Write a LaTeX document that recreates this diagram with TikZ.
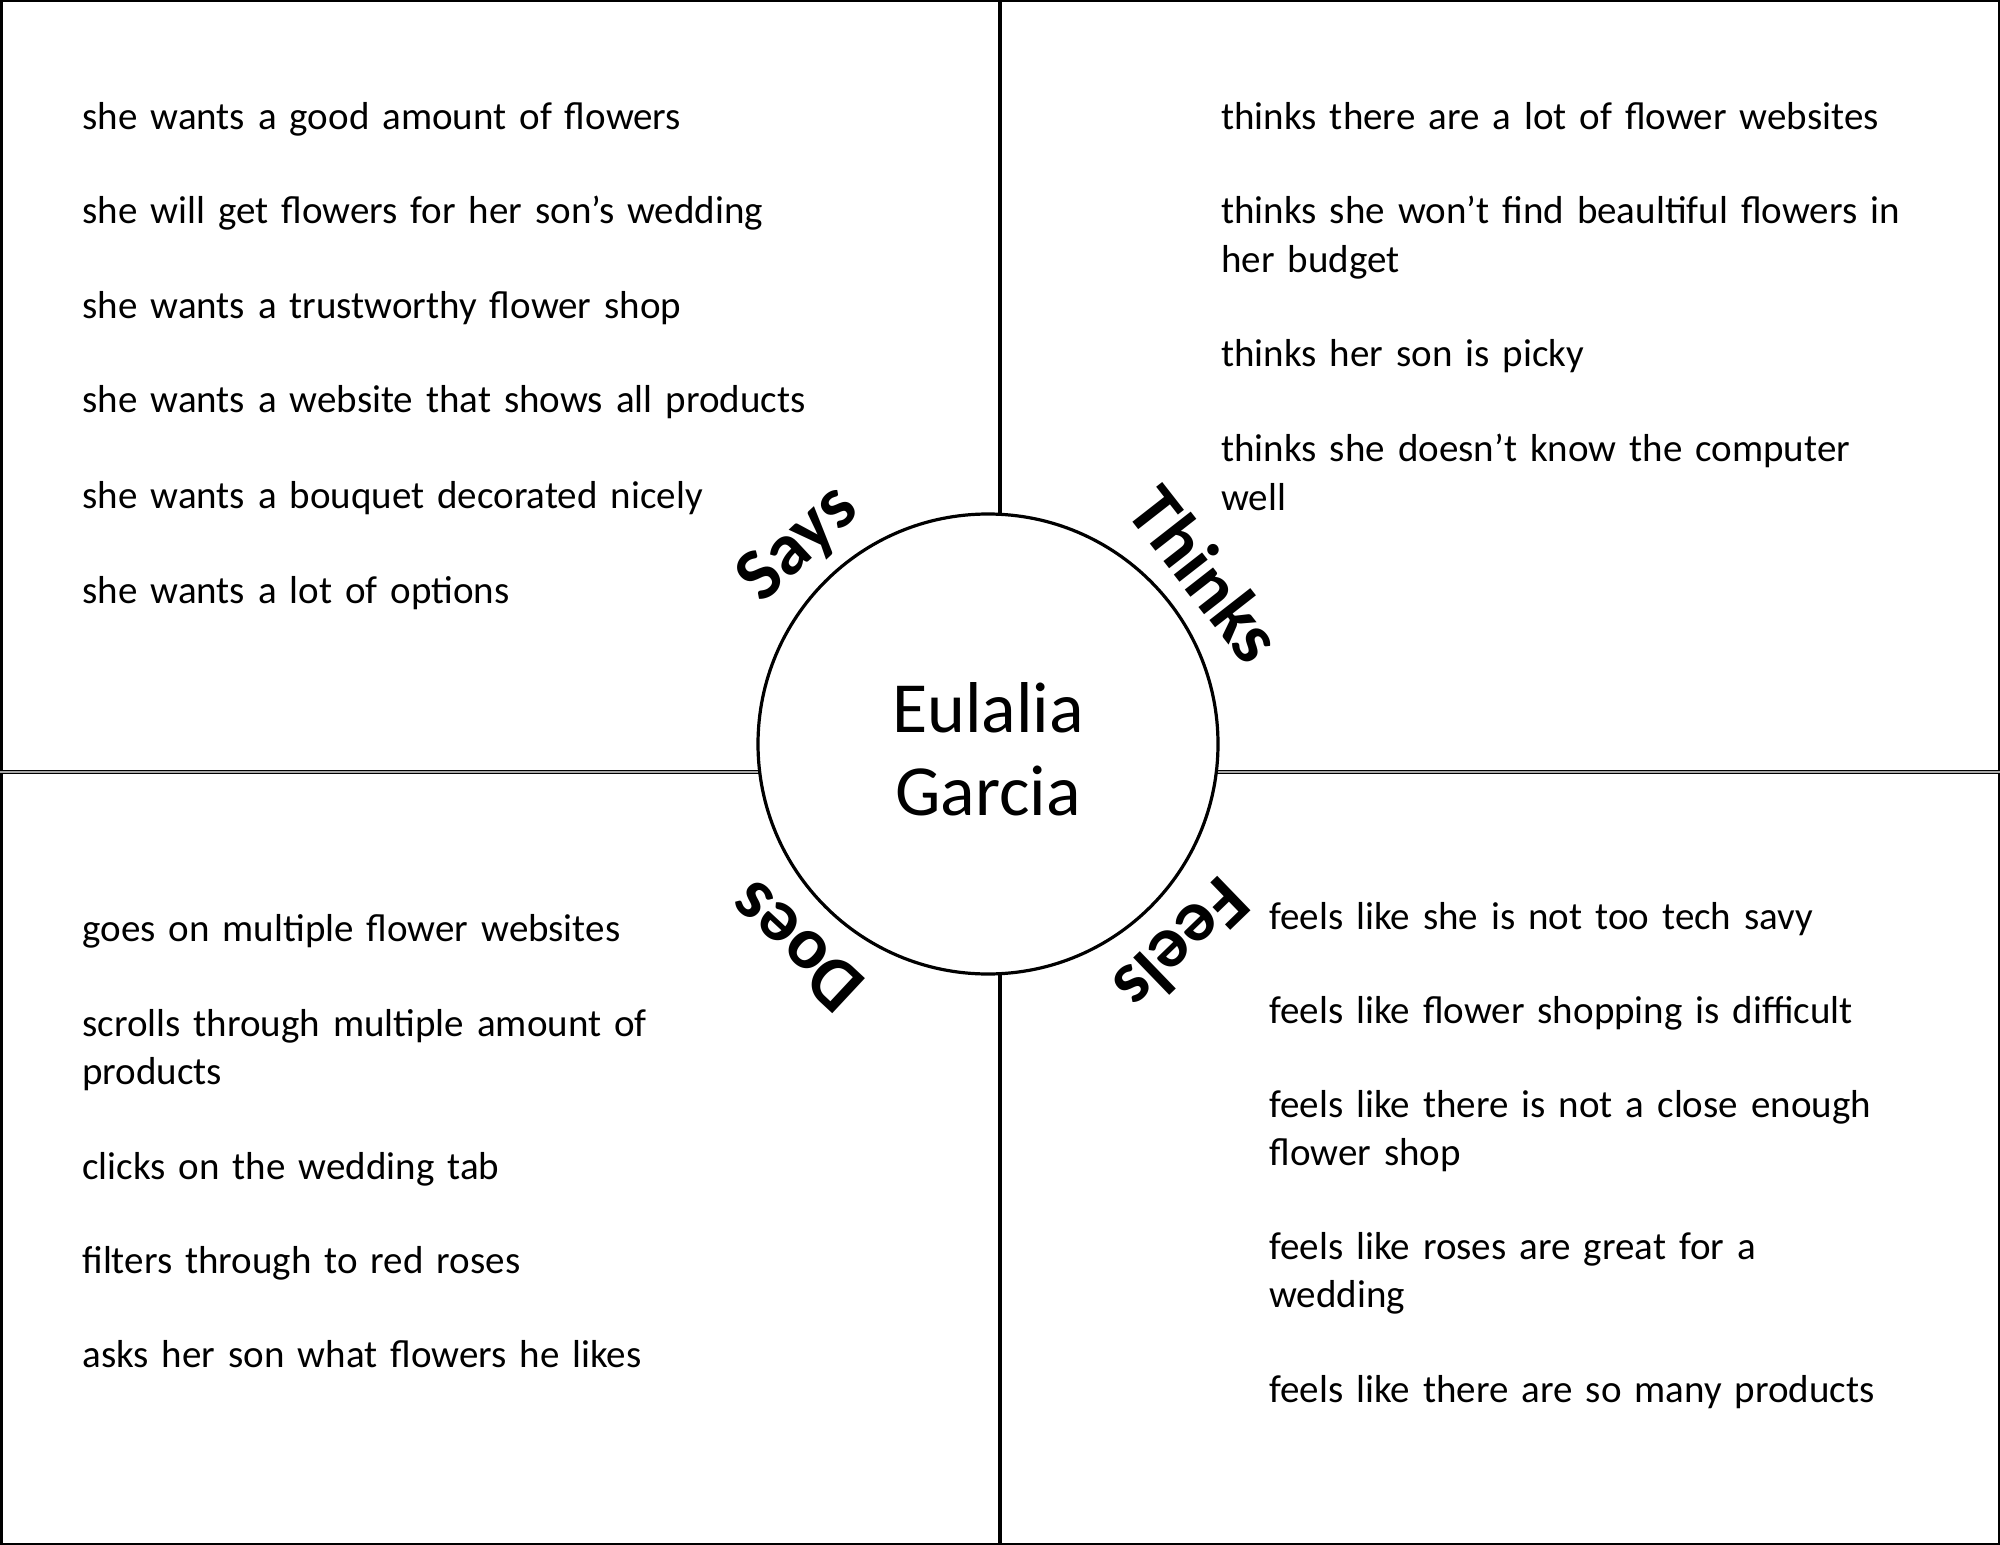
\documentclass[tikz,border=0pt]{standalone}
\usepackage{fontspec}
\setmainfont{Carlito}
\begin{document}
\begin{tikzpicture}[
        x=0.5pt, y=-0.5pt, % one unit = one pixel, y runs down
        entry/.style={anchor=base west, align=left, text width=400pt, inner sep=0pt, font=\fontsize{19.5}{24.25}\selectfont},
        zone/.style={inner sep=0pt, font=\fontsize{37}{40}\selectfont\bfseries},
        person/.style={circle, draw, line width=1.6pt, fill=white, minimum size=230pt, inner sep=0pt},
        fullname/.style={inner sep=0pt, align=center, font=\fontsize{36}{41.5}\selectfont}
    ]
    \useasboundingbox (0,0) rectangle (2000,1545);
    % Frame and cross
    \coordinate (n) at (1000,0);
    \coordinate (s) at (1000,1545);
    \coordinate (w) at (0,772);
    \coordinate (e) at (2000,772);
    \draw[line width=2.5pt] (0,0) rectangle (2000,1545);
    \draw[line width=2.3pt] (n) -- (s);
    \draw[line width=0.5pt, double=black!35, double distance=1pt] (w) -- (e);
    % Center circle
    \node[person] (persona) at (988,744) {};
    \node[fullname] (name) at (988,749) {Eulalia\\Garcia};
    % Quadrant titles
    \node[zone, rotate=43] (says) at (799,545) {Says};
    \node[zone, rotate=-52] (thinks) at (1206,574) {Thinks};
    \node[zone, rotate=137] (does) at (796,947) {Does};
    \node[zone, rotate=-136] (feels) at (1183,946) {Feels};
    % Says
    \node[entry] (say1) at (82,130) {she wants a good amount of flowers};
    \node[entry] (say2) at (82,224) {she will get flowers for her son’s wedding};
    \node[entry] (say3) at (82,319) {she wants a trustworthy flower shop};
    \node[entry] (say4) at (82,413) {she wants a website that shows all products};
    \node[entry] (say5) at (82,509) {she wants a bouquet decorated nicely};
    \node[entry] (say6) at (82,603) {she wants a lot of options};
    % Thinks
    \node[entry] (think1) at (1221,130) {thinks there are a lot of flower websites};
    \node[entry] (think2) at (1221,224) {thinks she won’t find beaultiful flowers in\\her budget};
    \node[entry] (think3) at (1221,367) {thinks her son is picky};
    \node[entry] (think4) at (1221,462) {thinks she doesn’t know the computer\\well};
    % Does
    \node[entry] (do1) at (82,941) {goes on multiple flower websites};
    \node[entry] (do2) at (82,1036) {scrolls through multiple amount of\\products};
    \node[entry] (do3) at (82,1179) {clicks on the wedding tab};
    \node[entry] (do4) at (82,1273) {filters through to red roses};
    \node[entry] (do5) at (82,1367) {asks her son what flowers he likes};
    % Feels
    \node[entry] (feel1) at (1269,929) {feels like she is not too tech savy};
    \node[entry] (feel2) at (1269,1023) {feels like flower shopping is difficult};
    \node[entry] (feel3) at (1269,1117) {feels like there is not a close enough\\flower shop};
    \node[entry] (feel4) at (1269,1259) {feels like roses are great for a\\wedding};
    \node[entry] (feel5) at (1269,1402) {feels like there are so many products};
\end{tikzpicture}
\end{document}
